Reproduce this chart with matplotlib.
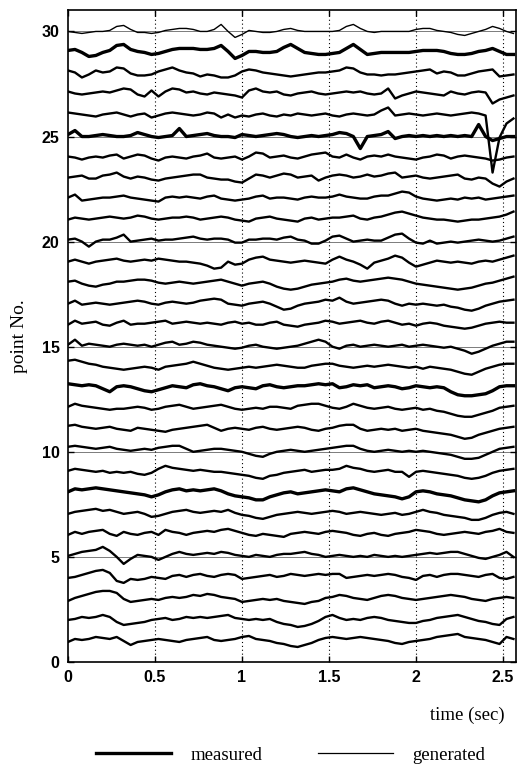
import numpy as np
import matplotlib
matplotlib.use("Agg")
import matplotlib.pyplot as plt
from matplotlib.lines import Line2D

# sample times (s) and trace deviations (about 1 unit = 1 px)
t = np.linspace(0, 2.56, 65)
SCALE = 1 / 21.0

trace_30 = [0,-1,-2,-1,0,0,1,5,6,2,-1,-1,-2,-1,1,2,3,3,2,0,0,2,7,0,-6,-3,1,0,-1,-1,0,2,3,1,0,0,0,0,0,1,5,7,3,0,-1,0,0,0,0,0,2,3,3,1,0,-1,-3,-4,-2,0,2,5,3,0,-2]
trace_29 = [2,3,0,-4,-3,0,2,7,8,3,1,0,-2,-1,1,3,4,4,4,3,3,4,7,1,-6,-3,1,1,0,0,1,5,8,4,0,-1,-2,-2,-1,0,4,8,3,-2,-1,0,0,0,0,0,1,2,2,2,1,-1,-2,-2,-1,1,2,4,1,-2,-2]
trace_28 = [3,1,-4,-1,3,1,2,6,5,0,-2,-2,-1,2,4,6,3,1,0,-3,-1,-2,-4,-4,-2,2,4,3,1,0,-1,-2,-3,-2,-1,0,1,1,2,3,6,5,1,-1,-1,-2,-1,-1,0,1,2,3,4,0,2,1,-2,-2,0,2,3,4,-3,-2,-1]
trace_27 = [3,1,0,1,2,3,2,4,6,5,0,-2,4,-2,3,6,5,2,3,1,0,2,1,0,-1,-3,4,6,3,2,3,0,-1,1,2,3,1,0,1,2,3,2,3,1,0,1,6,-4,-1,1,3,2,1,0,-1,3,1,0,2,3,2,-9,-5,-3,-1]
trace_26 = [3,2,1,0,-1,1,2,3,1,-1,1,2,-2,0,2,3,2,1,0,1,3,2,-2,1,-2,0,-1,1,2,0,-1,1,0,2,1,0,1,2,0,-1,1,2,1,0,1,5,8,0,1,2,1,0,1,2,1,0,1,2,3,2,0,-57,-22,-8,-3]
trace_25 = [2,6,0,0,1,2,1,0,0,1,4,2,0,-1,0,1,8,0,1,2,3,1,0,0,-1,2,1,0,1,2,3,2,0,-1,0,1,0,1,2,4,3,0,-12,0,1,2,5,-2,0,1,0,1,0,1,0,1,0,1,0,12,0,-4,-2,0,0]
trace_24 = [1,0,-2,0,1,0,2,3,-1,1,3,2,-1,-3,0,1,0,-1,1,2,4,0,-1,0,1,-2,1,5,4,0,1,2,0,-1,1,3,4,5,1,0,3,0,-2,1,2,1,3,1,0,-1,-2,0,1,3,2,-1,1,2,1,0,-1,-3,-2,0,1]
trace_23 = [1,2,3,0,0,3,4,6,2,0,2,1,-1,-2,0,1,2,3,4,4,1,0,-1,-1,-3,-4,0,4,3,1,3,5,4,1,2,3,-2,1,3,4,3,1,2,4,2,3,5,6,1,2,3,1,0,1,2,3,4,0,-1,1,0,-5,-8,-3,0]
trace_22 = [2,5,-1,0,1,2,2,3,4,2,1,0,-1,-2,2,3,2,3,2,1,3,4,1,0,-1,0,1,3,4,1,2,2,1,0,2,3,2,2,3,5,3,2,1,1,3,4,4,6,8,7,3,1,0,-1,0,1,0,2,1,2,0,1,2,3,4]
trace_21 = [1,3,2,1,2,3,4,3,2,3,5,4,2,1,2,3,3,4,3,1,2,3,4,3,1,0,-1,2,3,4,2,1,0,-1,2,3,1,2,3,3,4,5,2,1,3,4,6,8,9,7,5,3,2,1,1,0,-1,0,1,1,2,3,4,6,9]
trace_20 = [2,3,0,-5,0,2,2,4,7,0,1,2,3,1,2,2,3,4,5,3,2,3,3,2,-1,-1,2,2,3,3,2,4,5,2,1,-2,-2,1,5,6,3,0,1,2,1,1,4,7,8,3,-1,-2,1,-2,-1,0,-1,0,1,2,1,0,1,3,5]
trace_19 = [1,3,1,-1,1,2,3,4,2,1,2,3,2,4,3,2,1,1,0,-1,-3,-6,-5,1,-2,-1,3,5,6,3,2,1,0,1,2,1,0,-1,3,6,3,1,-2,-6,0,2,4,7,5,0,-4,-2,0,2,1,0,1,0,-1,1,2,1,3,5,7]
trace_18 = [2,3,0,-2,-3,-1,0,2,2,3,4,4,3,1,0,1,2,1,0,1,2,3,4,2,0,-2,0,1,2,0,-3,-5,-6,-5,-3,-1,0,1,2,4,5,3,2,3,4,5,6,5,4,2,0,-1,-2,-3,-4,-5,-6,-5,-4,-2,0,1,3,5,7]
trace_17 = [1,4,0,1,2,1,0,1,2,3,4,3,1,0,2,3,2,1,2,4,5,6,5,1,0,-1,1,2,3,1,-2,-5,-4,-1,1,2,3,5,4,7,3,1,2,3,4,5,4,1,-1,1,0,1,0,-1,0,-2,-3,-5,-6,-4,-1,1,3,4,5]
trace_16 = [1,5,2,3,4,1,0,3,5,1,2,2,3,4,5,2,3,4,3,2,3,2,1,3,4,2,3,1,1,3,4,1,0,-1,1,2,3,5,4,2,3,4,5,3,2,4,5,3,1,2,0,2,3,2,0,-1,-2,-3,-2,0,2,3,4,3,3]
trace_15 = [2,7,1,3,2,1,0,2,3,2,1,2,0,2,4,5,2,3,5,4,2,1,0,-1,-2,-1,1,2,0,-1,-2,-1,0,1,3,5,7,5,0,-2,1,2,0,1,2,1,0,1,2,0,1,2,1,0,-1,0,-2,-4,-7,-5,-2,1,3,5,5]
trace_14 = [7,8,6,4,3,1,0,-1,-2,-1,0,1,0,-2,1,2,3,4,6,4,2,0,-1,-2,-1,0,1,0,1,2,3,2,1,0,0,2,3,4,4,2,1,0,1,2,1,2,3,2,1,0,1,-1,1,0,-1,-2,-4,-6,-7,-4,-1,1,3,4,4]
trace_13 = [5,4,3,4,3,0,-3,2,3,2,0,-2,-3,-1,1,3,2,1,4,5,3,2,0,-2,1,2,1,0,3,4,2,1,2,3,3,4,5,4,5,1,2,4,3,4,1,2,3,2,0,1,3,2,1,2,1,-3,-6,-7,-7,-6,-5,-2,2,3,3]
trace_12 = [3,6,4,3,2,1,0,1,1,2,3,2,0,1,3,4,5,3,1,2,3,4,5,3,1,0,1,2,1,3,3,2,1,4,5,6,6,4,2,1,3,6,4,2,1,2,3,1,0,1,2,0,1,-1,-2,-4,-6,-7,-7,-5,-3,-1,2,3,4]
trace_11 = [5,6,4,3,2,3,4,2,1,0,3,2,1,0,-1,1,2,3,4,5,6,3,0,2,3,2,1,3,4,2,1,2,3,4,3,1,0,2,3,5,6,6,2,0,1,2,1,2,0,1,2,0,-1,-2,-3,-4,-6,-8,-7,-4,-2,0,2,3,4]
trace_10 = [5,6,5,4,3,4,5,3,2,1,2,3,2,4,5,6,6,3,0,1,2,3,3,2,1,0,-2,-4,-5,-2,0,1,2,1,0,1,2,3,4,5,6,6,3,1,0,1,2,1,0,1,0,1,0,-1,-2,-3,-5,-7,-7,-6,-3,0,3,4,5]
trace_09 = [2,4,3,2,1,2,0,1,0,1,-1,-2,0,4,7,5,4,3,2,3,2,1,1,0,-1,-2,-3,-5,-6,-3,-2,0,1,2,3,1,2,3,3,4,7,5,4,2,1,2,3,1,1,-4,1,2,1,0,-1,-2,-3,-5,-6,-5,-3,0,2,3,4]
trace_08 = [2,5,4,5,6,5,4,3,2,1,0,-1,-3,-1,2,4,5,3,4,3,4,5,3,0,-2,-3,-4,-6,-6,-3,-1,1,2,0,1,2,3,4,3,2,5,6,4,2,0,-1,-2,-3,-5,-3,2,3,2,0,-1,-2,-4,-6,-7,-8,-6,-2,1,2,3]
trace_07 = [1,3,4,5,6,4,5,3,1,2,3,1,-2,-1,1,3,4,5,3,2,3,4,3,5,2,0,-1,-3,-4,-2,0,1,2,3,2,1,2,3,4,3,1,2,3,2,1,0,1,2,0,1,3,5,3,2,0,-1,-2,-3,-5,-5,-3,0,2,3,1]
trace_06 = [1,4,2,4,5,6,2,0,4,2,1,3,4,1,6,4,3,1,3,4,5,4,6,7,5,3,1,0,2,1,0,-1,2,3,4,3,2,4,5,4,3,1,0,2,3,1,0,2,3,4,6,5,4,2,1,2,3,4,3,2,4,5,7,4,3]
trace_05 = [1,3,5,6,7,10,6,0,-7,-2,2,1,0,-3,0,3,5,3,2,3,4,3,5,4,2,1,0,2,1,0,2,3,3,4,5,3,2,0,1,2,1,0,1,0,2,1,0,1,0,1,2,3,4,3,4,5,5,3,1,-1,-2,0,2,5,0]
trace_04 = [0,1,3,5,7,8,5,-3,-5,-1,-2,-1,1,0,-1,2,3,1,3,4,2,1,3,4,3,-1,0,1,2,3,1,2,4,3,2,3,4,3,4,4,0,1,2,3,2,3,4,3,1,0,-2,2,3,1,3,4,4,3,2,1,3,4,0,-1,1]
trace_03 = [-2,1,3,5,7,8,8,6,0,-3,-2,-1,0,-1,1,2,1,2,4,3,5,4,2,1,0,-3,-2,-1,0,-1,0,-2,-3,-4,-5,-3,-2,1,2,4,3,1,0,-1,1,3,4,3,1,0,-1,0,1,2,3,4,3,2,0,-1,-2,0,1,2,1]
trace_02 = [0,1,3,2,3,5,3,-2,-5,-4,-3,-2,0,1,2,0,1,3,2,3,2,3,4,5,2,1,0,1,0,1,-2,-4,-5,-7,-6,-4,-1,3,5,2,0,1,0,2,3,2,0,-1,-2,-3,-3,-1,0,2,3,4,5,3,1,-1,-2,-4,-5,1,3]
trace_01 = [-1,2,1,2,4,3,2,4,0,-4,-1,0,1,2,1,0,-1,1,2,3,4,1,0,1,2,4,5,2,1,0,-2,-3,-5,-6,-4,-2,1,3,4,3,2,3,4,3,2,1,0,-2,-3,-1,0,1,2,4,5,6,7,4,3,2,1,-1,-3,4,2]

traces = [trace_01, trace_02, trace_03, trace_04, trace_05, trace_06, trace_07,
          trace_08, trace_09, trace_10, trace_11, trace_12, trace_13, trace_14,
          trace_15, trace_16, trace_17, trace_18, trace_19, trace_20, trace_21,
          trace_22, trace_23, trace_24, trace_25, trace_26, trace_27, trace_28,
          trace_29, trace_30]
thick = [8, 13, 25, 29]
thin = [30]

xticks = [0, 0.5, 1, 1.5, 2, 2.5]
xticklabels = ["0", "0.5", "1", "1.5", "2", "2.5"]
yticks = [0, 5, 10, 15, 20, 25, 30]

fig = plt.figure(figsize=(5.21, 7.72), dpi=100)
ax = fig.add_axes([0.1305, 0.1425, 0.86, 0.844])

for k in yticks[1:]:
    ax.axhline(k, color="#666666", lw=0.6, zorder=1)
for xv in xticks[1:]:
    ax.axvline(xv, color="black", lw=0.8, ls=(0, (1, 2.5)), zorder=1)

for k, d in enumerate(traces, start=1):
    if k in thick:
        lw = 2.4
    elif k in thin:
        lw = 1.0
    else:
        lw = 1.7
    ax.plot(t, k + np.array(d) * SCALE, color="black", lw=lw, zorder=3)

ax.set_xlim(0, 2.575)
ax.set_ylim(0, 31.0)
ax.set_xticks(xticks)
ax.set_xticklabels(xticklabels)
ax.set_yticks(yticks)
ax.tick_params(direction="in", top=True, right=True, length=4, width=1,
               labelsize=11.5, pad=6)
for lab in ax.get_xticklabels() + ax.get_yticklabels():
    lab.set_family("Liberation Sans")
    lab.set_fontweight("bold")
for sp in ax.spines.values():
    sp.set_linewidth(1.2)

serif = "Liberation Serif"
ax.set_ylabel("point No.", family=serif, fontsize=14, labelpad=10)
fig.text(0.897, 0.074, "time (sec)", family=serif, fontsize=13.5,
         ha="center", va="center")

handles = [Line2D([], [], color="black", lw=2.4),
           Line2D([], [], color="black", lw=0.9)]
fig.legend(handles, ["measured", "generated"], loc="center",
           bbox_to_anchor=(0.558, 0.022), ncol=2, frameon=False,
           handlelength=4.0, columnspacing=3.0, handletextpad=1.0,
           prop={"family": serif, "size": 13.5})

fig.savefig("out.png", dpi=100)
